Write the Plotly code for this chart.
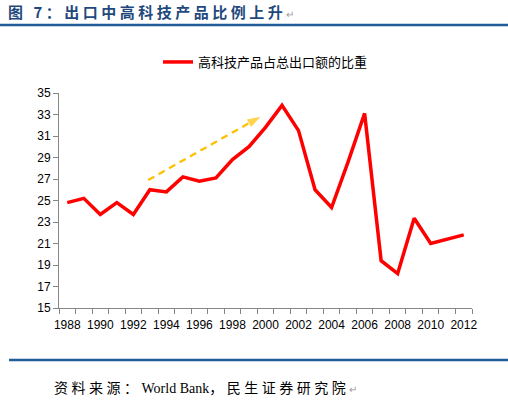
import plotly.graph_objects as go

years = list(range(1988, 2013))
share = [24.8, 25.2, 23.7, 24.8, 23.7, 26.0, 25.8, 27.2, 26.8, 27.1, 28.8, 30.0, 31.8,
         33.85, 31.5, 26.0, 24.35, 28.6, 33.1, 19.4, 18.2, 23.35, 21.0, 21.4, 21.8]
series_name = "高科技产品占总出口额的比重"
x_tick_vals = list(range(1988, 2013, 2))
y_tick_vals = list(range(15, 36, 2))
trend_x = [1992.9, 1999.7]
trend_y = [26.9, 32.8]

title_text = ("<span style='letter-spacing:3.5px'>图 7：出口中高科技产品比例上升</span>"
              "<span style='font-size:10px;color:#999999;font-weight:normal'>↵</span>")
source_text = ("<span style='letter-spacing:3.5px'>资料来源：</span>World Bank"
               "<span style='letter-spacing:3.5px'>，民生证券研究院</span>"
               "<span style='font-size:10px;color:#999999'>↵</span>")

fig = go.Figure()
fig.add_trace(go.Scatter(
    x=years, y=share, mode="lines", name=series_name,
    line=dict(color="#FF0000", width=3.5),
))
fig.add_trace(go.Scatter(
    x=trend_x, y=trend_y, mode="lines+markers", showlegend=False, hoverinfo="skip",
    line=dict(color="#FFC000", width=2.3, dash="7px,5px"),
    marker=dict(symbol=["circle", "arrow"], size=[0.1, 14], angleref="previous",
                color="#FFC000", line=dict(width=0)),
))

L, R, T, B = 59, 36, 93, 92
pw = 508 - L - R
ph = 400 - T - B

fig.update_layout(
    width=508, height=400,
    margin=dict(l=L, r=R, t=T, b=B),
    paper_bgcolor="white", plot_bgcolor="white",
    font=dict(family="Liberation Sans, Arial, sans-serif", size=12, color="#000000"),
    title=dict(text=title_text, x=8 / 508, xanchor="left", xref="container",
               y=1 - 13 / 400, yanchor="middle", yref="container",
               font=dict(family="Noto Sans CJK SC", size=15, color="#1F497D", weight="bold")),
    showlegend=True,
    legend=dict(x=0.5, xanchor="center", y=1 + (T - 62) / ph, yanchor="middle",
                orientation="h", bgcolor="rgba(0,0,0,0)",
                font=dict(family="Noto Sans CJK SC", size=13, color="#000000")),
    xaxis=dict(range=[1987.5, 2012.5], tickvals=x_tick_vals, ticks="", showgrid=False,
               showline=True, linecolor="#868686", linewidth=1, zeroline=False,
               tickfont=dict(size=12), ticklabelstandoff=6,
               minor=dict(ticks="outside", tick0=1987.5, dtick=1, ticklen=5,
                          tickcolor="#868686", showgrid=False)),
    yaxis=dict(range=[15, 35], tickvals=y_tick_vals, ticks="outside", ticklen=5,
               tickcolor="#868686", showgrid=False, showline=True, linecolor="#868686",
               linewidth=1, zeroline=False, tickfont=dict(size=12)),
    shapes=[
        dict(type="line", xref="paper", yref="paper", x0=-L / pw, x1=(508 - L) / pw,
             y0=(400 - B - 25) / ph, y1=(400 - B - 25) / ph,
             line=dict(color="#1F5C99", width=2.5)),
        dict(type="line", xref="paper", yref="paper", x0=(9 - L) / pw, x1=(508 - L) / pw,
             y0=(400 - B - 360) / ph, y1=(400 - B - 360) / ph,
             line=dict(color="#1F5C99", width=2.5)),
    ],
    annotations=[
        dict(text=source_text, xref="paper", yref="paper", x=(52 - L) / pw,
             y=(400 - B - 388) / ph, xanchor="left", yanchor="middle", showarrow=False,
             font=dict(family="Liberation Serif, Noto Sans CJK SC", size=14, color="#000000")),
    ],
)

fig.write_html("out.html", config={"displayModeBar": False},
               post_script="document.body.style.margin='0';")
